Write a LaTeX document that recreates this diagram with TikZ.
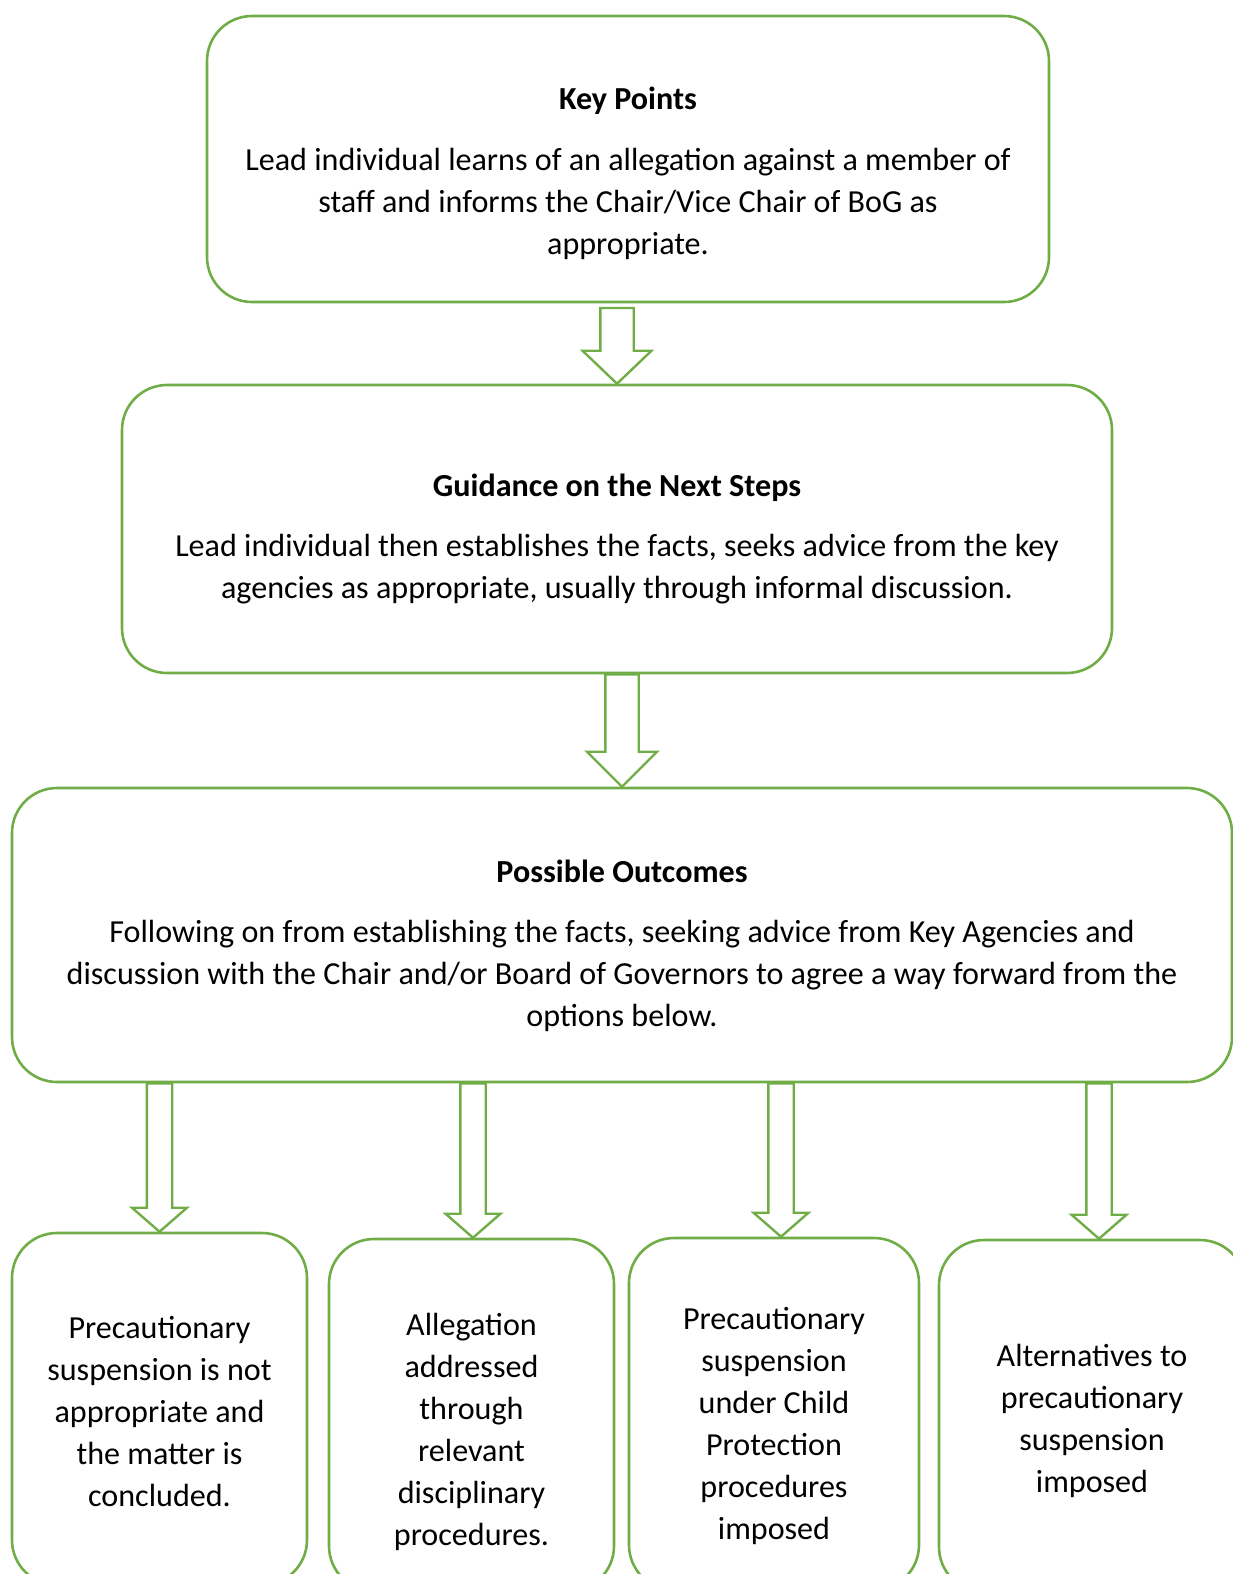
\documentclass[tikz,border=0pt]{standalone}
\usepackage{fontspec}
\setmainfont{Carlito}
\usepackage{tikz}
\usetikzlibrary{calc}
\definecolor{leafgreen}{HTML}{70AD47}

\newcommand{\hollowdown}[5]{%
  \draw[hollow] let \p1=#1, \p2=#2 in
    (\x2-#3,\y1) -- (\x2-#3,\y2+#5) -- (\x2-#4,\y2+#5) -- (\x2,\y2)
    -- (\x2+#4,\y2+#5) -- (\x2+#3,\y2+#5) -- (\x2+#3,\y1) -- cycle;}

\begin{document}
\begin{tikzpicture}[x=1pt,y=-1pt,
	panel/.style={draw=leafgreen,line width=2.6pt,rounded corners=45pt,fill=white},
	hollow/.style={draw=leafgreen,line width=2.4pt,fill=white,line join=miter},
	txt/.style={align=center,font=\fontsize{32.1}{42}\selectfont,inner sep=0pt}]
	\useasboundingbox (0,0) rectangle (1233,1574);

	\node[panel,minimum width=842,minimum height=286](kp) at (628,159){};
	\node[panel,minimum width=990,minimum height=288](gd) at (617,529){};
	\node[panel,minimum width=1220,minimum height=294](po) at (622,935){};
	\node[panel,minimum width=295,minimum height=352](o1) at (159.5,1409){};
	\node[panel,minimum width=285,minimum height=352](o2) at (471.5,1415){};
	\node[panel,minimum width=290,minimum height=352](o3) at (774,1414){};
	\node[panel,minimum width=306,minimum height=352](o4) at (1092,1416){};

	\node[txt](kptext) at (628,173.5){\textbf{Key Points}\\[18.6pt]
		Lead individual learns of an allegation against a member of\\
		staff and informs the Chair/Vice Chair of BoG as\\
		appropriate.};
	\node[txt](gdtext) at (617,539){\textbf{Guidance on the Next Steps}\\[18.6pt]
		Lead individual then establishes the facts, seeks advice from the key\\
		agencies as appropriate, usually through informal discussion.};
	\node[txt](potext) at (622,946){\textbf{Possible Outcomes}\\[18.6pt]
		Following on from establishing the facts, seeking advice from Key Agencies and\\
		discussion with the Chair and/or Board of Governors to agree a way forward from the\\
		options below.};
	\node[txt](o1text) at (159.5,1412){Precautionary\\suspension is not\\appropriate and\\the matter is\\concluded.};
	\node[txt](o2text) at (471.5,1432){Allegation\\addressed\\through\\relevant\\disciplinary\\procedures.};
	\node[txt](o3text) at (774,1426){Precautionary\\suspension\\under Child\\Protection\\procedures\\imposed};
	\node[txt](o4text) at (1092,1421){Alternatives to\\precautionary\\suspension\\imposed};

	\hollowdown{($(kp.south)+(0,4.7)$)}{(gd.north)}{16.7}{34.5}{33}
	\hollowdown{(gd.south)}{(po.north)}{16.7}{35}{35}
	\hollowdown{(po.south)}{(o1.north)}{12.7}{27.5}{24}
	\hollowdown{(po.south)}{($(o2.north)+(1.5,0)$)}{12.7}{27.5}{24}
	\hollowdown{(po.south)}{($(o3.north)+(7,0)$)}{12.7}{27.5}{24}
	\hollowdown{(po.south)}{($(o4.north)+(7,0)$)}{12.7}{27.5}{24}
\end{tikzpicture}
\end{document}
